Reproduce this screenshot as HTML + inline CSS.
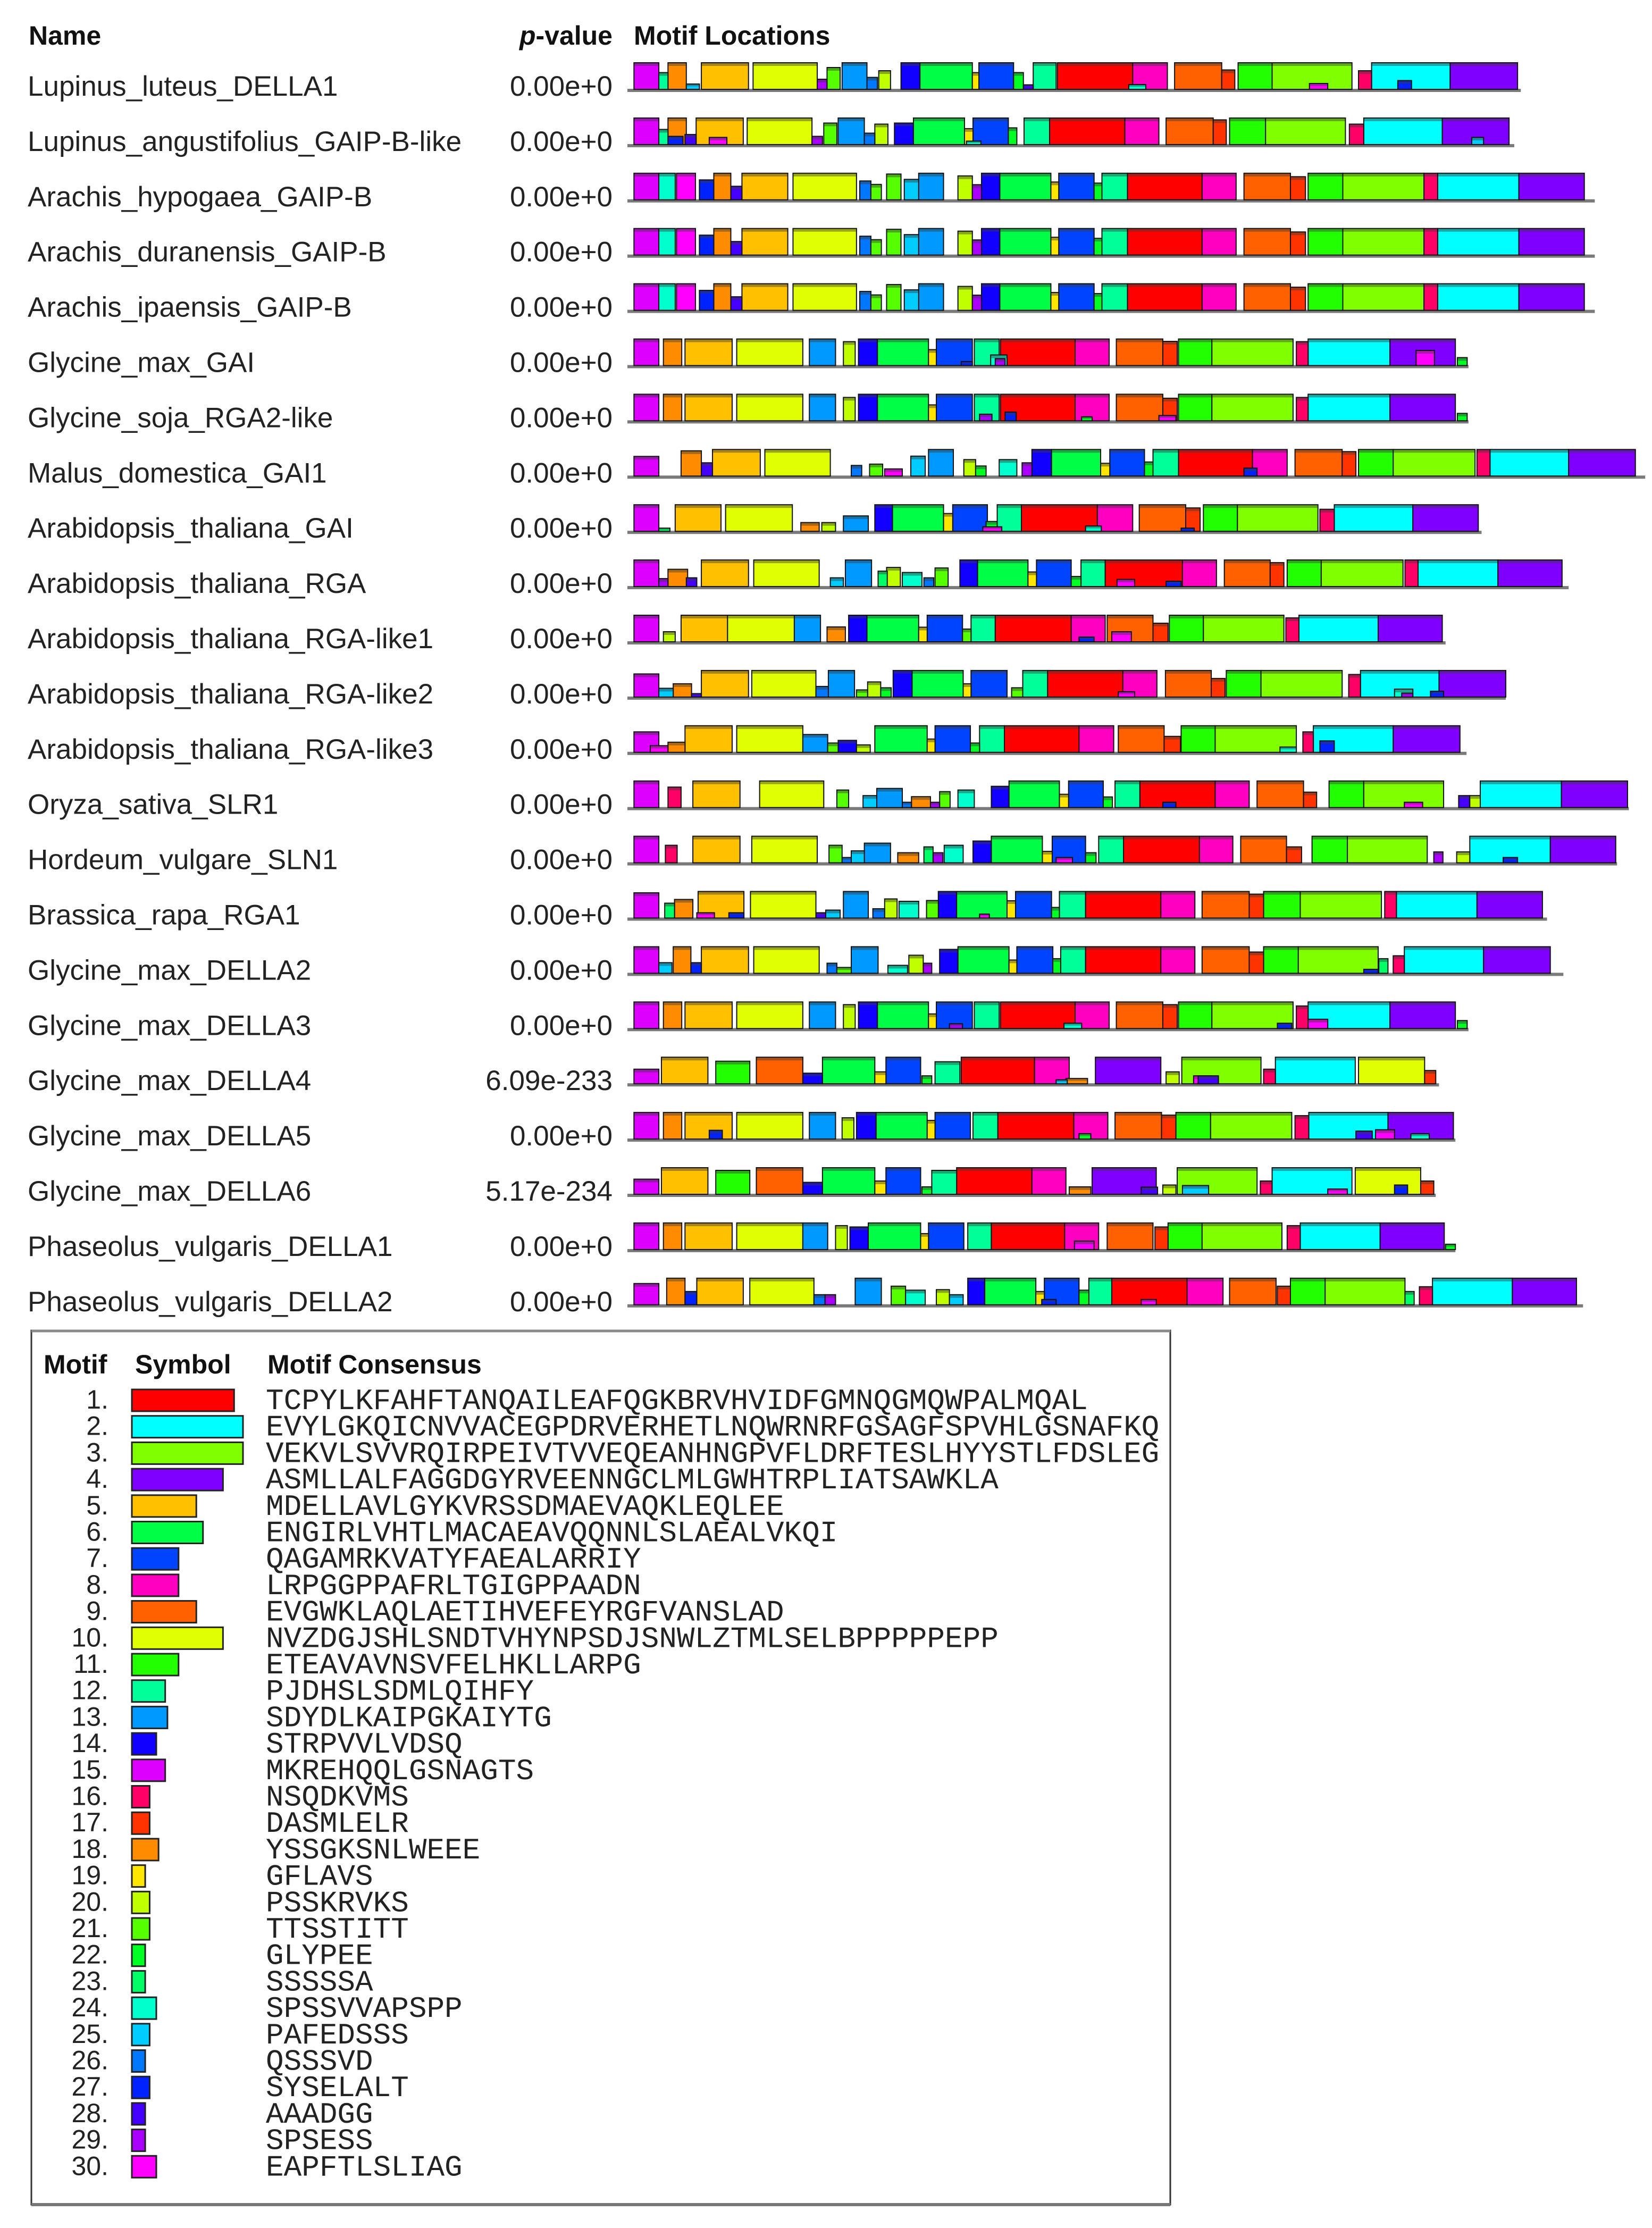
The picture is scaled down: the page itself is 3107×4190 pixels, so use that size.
<!DOCTYPE html>
<html><head><meta charset="utf-8"><style>
html,body{margin:0;padding:0;background:#fff;}
svg text{font-family:"Liberation Sans",sans-serif;}
.mono{font-family:"Liberation Mono",monospace;}
</style></head><body>
<svg id="chart" xmlns="http://www.w3.org/2000/svg" width="3107" height="4185" viewBox="0 0 3107 4185">
<g id="hdr">
<text x="54" y="84" font-size="50" font-weight="bold" fill="#111">Name</text>
<text x="1152" y="84" font-size="50" font-weight="bold" fill="#111" text-anchor="end"><tspan font-style="italic">p</tspan>-value</text>
<text x="1192" y="84" font-size="50" font-weight="bold" fill="#111">Motif Locations</text>
</g>
<g id="rows"></g>
<g id="legend">
<rect x="59" y="2502" width="2142" height="1644" fill="none" stroke="#333" stroke-width="3"/>
<line x1="59" y1="2503" x2="2201" y2="2503" stroke="#888" stroke-width="5"/>
<line x1="59" y1="4146" x2="2201" y2="4146" stroke="#777" stroke-width="6"/>
<text x="82" y="2583" font-size="50" font-weight="bold" fill="#111">Motif</text>
<text x="254" y="2583" font-size="50" font-weight="bold" fill="#111">Symbol</text>
<text x="503" y="2583" font-size="50" font-weight="bold" fill="#111">Motif Consensus</text>
</g>
</svg>
<script>
const seqNames=["Lupinus_luteus_DELLA1","Lupinus_angustifolius_GAIP-B-like","Arachis_hypogaea_GAIP-B","Arachis_duranensis_GAIP-B","Arachis_ipaensis_GAIP-B","Glycine_max_GAI","Glycine_soja_RGA2-like","Malus_domestica_GAI1","Arabidopsis_thaliana_GAI","Arabidopsis_thaliana_RGA","Arabidopsis_thaliana_RGA-like1","Arabidopsis_thaliana_RGA-like2","Arabidopsis_thaliana_RGA-like3","Oryza_sativa_SLR1","Hordeum_vulgare_SLN1","Brassica_rapa_RGA1","Glycine_max_DELLA2","Glycine_max_DELLA3","Glycine_max_DELLA4","Glycine_max_DELLA5","Glycine_max_DELLA6","Phaseolus_vulgaris_DELLA1","Phaseolus_vulgaris_DELLA2"];
const pValues=["0.00e+0","0.00e+0","0.00e+0","0.00e+0","0.00e+0","0.00e+0","0.00e+0","0.00e+0","0.00e+0","0.00e+0","0.00e+0","0.00e+0","0.00e+0","0.00e+0","0.00e+0","0.00e+0","0.00e+0","0.00e+0","6.09e-233","0.00e+0","5.17e-234","0.00e+0","0.00e+0"];
const seqLengths=[1365,1355,1478,1478,1478,1285,1285,1555,1305,1438,1250,1342,1282,1530,1512,1405,1430,1285,1240,1265,1235,1265,1460];
const motifColors=["#ff0000","#00ffff","#80ff00","#8000ff","#ffc000","#00ff44","#0044ff","#ff00c0","#ff6000","#e0ff00","#22ff00","#00ff99","#0099ff","#1100ff","#dd00ff","#ff0066","#ff3300","#ff8c00","#ffe600","#c0ff00","#55ff00","#00ff22","#00ff66","#00ffcc","#00ccff","#0077ff","#0022ff","#4400ff","#aa00ff","#ff00ff"];
const consensus=["TCPYLKFAHFTANQAILEAFQGKBRVHVIDFGMNQGMQWPALMQAL","EVYLGKQICNVVACEGPDRVERHETLNQWRNRFGSAGFSPVHLGSNAFKQ","VEKVLSVVRQIRPEIVTVVEQEANHNGPVFLDRFTESLHYYSTLFDSLEG","ASMLLALFAGGDGYRVEENNGCLMLGWHTRPLIATSAWKLA","MDELLAVLGYKVRSSDMAEVAQKLEQLEE","ENGIRLVHTLMACAEAVQQNNLSLAEALVKQI","QAGAMRKVATYFAEALARRIY","LRPGGPPAFRLTGIGPPAADN","EVGWKLAQLAETIHVEFEYRGFVANSLAD","NVZDGJSHLSNDTVHYNPSDJSNWLZTMLSELBPPPPPEPP","ETEAVAVNSVFELHKLLARPG","PJDHSLSDMLQIHFY","SDYDLKAIPGKAIYTG","STRPVVLVDSQ","MKREHQQLGSNAGTS","NSQDKVMS","DASMLELR","YSSGKSNLWEEE","GFLAVS","PSSKRVKS","TTSSTITT","GLYPEE","SSSSSA","SPSSVVAPSPP","PAFEDSSS","QSSSVD","SYSELALT","AAADGG","SPSESS","EAPFTLSLIAG"];
// each hit: [motif, start, end, relative height]
const hitsArachis=[[15,10,48,1],[24,48,73,1],[30,75,104,1],[27,110,132,.75],[18,132,158,1],[28,158,175,.51],[5,175,245,1],[10,253,350,1],[26,355,372,.71],[21,372,388,.58],[21,396,418,.97],[25,423,445,.77],[13,445,483,1],[20,505,527,.9],[29,527,541,.57],[14,541,569,1],[6,569,647,1],[19,647,659,.67],[7,659,713,1],[22,713,725,.63],[12,725,764,1],[1,764,878,1],[8,878,930,1],[9,942,1013,1],[17,1013,1036,.87],[11,1040,1093,1],[3,1093,1217,1],[16,1217,1238,1],[2,1238,1362,1],[4,1362,1462,1]];
const motifHits=[
[[15,10,48,1],[12,48,62,.63],[18,62,90,1],[25,90,110,.2],[5,113,185,1],[10,192,290,1],[29,290,305,.38],[21,305,325,.82],[13,328,366,1],[26,366,382,.45],[20,384,402,.7],[14,418,447,1],[6,447,527,1],[19,527,537,.63],[7,537,590,1],[22,590,605,.63],[28,605,620,.17],[12,620,655,1],[1,657,772,1],[8,772,825,1],[24,766,792,.18],[9,836,908,1],[17,908,928,.73],[11,933,985,1],[3,985,1107,1],[30,1042,1070,.22],[16,1117,1137,.7],[2,1137,1257,1],[27,1177,1198,.33],[4,1257,1360,1]],
[[15,10,48,1],[12,48,62,.57],[18,62,90,1],[27,62,85,.31],[28,88,105,.38],[5,105,177,1],[30,125,152,.27],[10,183,282,1],[29,282,298,.31],[21,300,320,.81],[13,322,362,1],[26,362,378,.43],[20,378,398,.77],[14,408,437,.81],[6,437,515,1],[19,515,528,.6],[24,518,540,.13],[7,528,582,1],[22,582,595,.63],[12,606,645,1],[1,645,760,1],[8,760,812,1],[9,823,895,1],[17,895,915,.93],[11,920,975,1],[3,975,1097,1],[16,1103,1125,.77],[2,1125,1245,1],[4,1245,1347,1],[25,1290,1308,.27]],
hitsArachis,hitsArachis,hitsArachis,
[[15,10,48,1],[18,55,83,1],[5,88,160,1],[10,167,268,1],[13,278,318,1],[20,330,348,.9],[14,353,382,1],[6,382,460,1],[19,460,472,.6],[7,472,527,1],[27,510,527,.15],[12,530,568,1],[1,570,684,1],[24,555,580,.4],[29,562,577,.26],[8,684,736,1],[9,747,818,1],[17,818,840,.91],[11,842,893,1],[3,893,1017,1],[16,1022,1040,.9],[2,1040,1165,1],[4,1165,1265,1],[30,1205,1233,.57],[22,1268,1283,.3]],
[[15,10,48,1],[18,55,83,1],[5,88,160,1],[10,167,268,1],[13,278,318,1],[20,330,348,.88],[14,353,382,1],[6,382,460,1],[19,460,472,.6],[7,472,527,1],[12,530,568,1],[1,570,684,1],[29,538,557,.25],[27,577,594,.33],[8,684,736,1],[22,694,710,.15],[9,747,818,1],[17,818,840,.85],[30,812,838,.2],[11,842,893,1],[3,893,1017,1],[16,1022,1040,.88],[2,1040,1165,1],[4,1165,1265,1],[22,1268,1283,.28]],
[[15,10,48,.74],[18,82,113,.95],[28,113,130,.5],[5,130,203,1],[10,210,310,1],[26,342,358,.4],[21,370,390,.45],[30,393,420,.27],[25,433,455,.75],[13,460,498,1],[20,514,532,.62],[22,532,548,.38],[24,568,595,.62],[29,603,618,.5],[14,618,648,1],[6,648,723,1],[19,723,737,.48],[7,737,790,1],[22,790,803,.53],[12,803,842,1],[1,842,955,1],[27,942,962,.3],[8,955,1008,1],[9,1020,1092,1],[17,1092,1113,.92],[11,1117,1170,1],[3,1170,1295,1],[16,1298,1318,1],[2,1318,1438,1],[4,1438,1540,1]],
[[15,10,48,1],[23,48,65,.12],[5,73,143,1],[10,150,252,1],[18,265,293,.33],[20,297,318,.33],[13,330,368,.58],[14,378,405,1],[6,405,483,1],[19,483,497,.67],[7,497,550,1],[22,548,565,.37],[30,543,572,.17],[12,565,602,1],[1,602,718,1],[24,700,724,.2],[8,718,772,1],[9,782,853,1],[17,853,875,.88],[27,846,866,.12],[11,880,932,1],[3,932,1055,1],[16,1058,1080,.83],[2,1080,1200,1],[4,1200,1300,1]],
[[15,10,48,1],[29,48,62,.3],[18,62,92,.65],[28,90,106,.33],[5,113,185,1],[10,193,293,1],[25,310,330,.33],[13,333,373,1],[23,383,397,.58],[20,396,417,.72],[24,420,450,.53],[26,453,468,.33],[21,470,490,.7],[14,508,535,1],[6,535,612,1],[19,612,625,.55],[7,625,678,1],[22,678,693,.38],[12,693,730,1],[1,730,848,1],[30,748,775,.27],[27,823,846,.2],[8,848,900,1],[9,912,982,1],[17,982,1003,.9],[11,1008,1060,1],[3,1060,1185,1],[16,1188,1208,1],[2,1208,1330,1],[4,1330,1428,1]],
[[15,10,48,1],[20,55,73,.38],[5,82,153,1],[10,153,255,1],[13,255,295,1],[18,305,333,.56],[14,338,366,1],[6,366,445,1],[19,445,458,.55],[7,458,512,1],[21,512,525,.48],[12,525,562,1],[1,562,678,1],[8,678,730,1],[27,690,713,.18],[9,733,803,1],[30,740,770,.38],[17,803,826,.7],[11,828,880,1],[3,880,1003,1],[16,1006,1026,.9],[2,1026,1147,1],[4,1147,1245,1]],
[[15,10,48,.87],[25,48,70,.33],[18,70,98,.5],[28,98,113,.13],[5,113,185,1],[10,190,288,1],[26,288,307,.4],[13,307,347,1],[21,350,367,.27],[20,367,387,.57],[22,387,403,.35],[14,406,435,1],[6,435,513,1],[19,513,525,.5],[7,525,580,1],[21,587,604,.35],[12,604,642,1],[1,642,757,1],[30,750,775,.2],[8,757,809,1],[9,822,892,1],[17,892,913,.7],[11,915,968,1],[3,968,1092,1],[16,1102,1120,.85],[2,1120,1240,1],[24,1172,1200,.3],[29,1183,1200,.15],[4,1240,1342,1],[27,1227,1247,.22]],
[[15,10,48,.77],[30,35,62,.25],[18,62,88,.38],[5,88,160,1],[10,167,268,1],[13,268,306,.67],[21,306,322,.35],[14,322,350,.45],[20,350,371,.28],[6,378,458,1],[19,458,470,.5],[7,470,524,1],[22,524,538,.35],[12,538,576,1],[1,576,690,1],[8,690,743,1],[9,750,820,1],[17,820,845,.6],[11,846,898,1],[3,898,1022,1],[24,997,1022,.2],[16,1032,1048,.77],[2,1048,1170,1],[27,1058,1080,.43],[4,1170,1272,1]],
[[15,10,48,1],[16,62,82,.77],[5,100,172,1],[10,202,300,1],[21,320,338,.66],[25,360,381,.45],[13,381,420,.72],[26,420,434,.2],[18,434,463,.41],[29,463,477,.2],[21,477,493,.6],[24,505,530,.66],[14,556,583,.8],[6,583,660,1],[19,660,674,.5],[7,674,727,1],[22,727,741,.4],[12,745,783,1],[1,783,898,1],[27,818,838,.2],[8,898,950,1],[9,962,1033,1],[17,1033,1053,.58],[11,1072,1125,1],[3,1125,1247,1],[30,1187,1215,.2],[28,1270,1287,.45],[20,1287,1303,.45],[2,1303,1427,1],[4,1427,1528,1]],
[[15,10,48,1],[16,58,76,.66],[5,100,172,1],[10,190,290,1],[21,308,328,.66],[26,328,342,.2],[25,342,362,.45],[13,362,402,.74],[18,413,445,.38],[23,453,467,.6],[29,467,482,.38],[24,484,513,.66],[14,528,556,.82],[6,556,634,1],[19,634,649,.43],[7,649,700,1],[30,655,680,.2],[22,700,716,.38],[12,720,758,1],[1,758,874,1],[8,874,925,1],[9,937,1007,1],[17,1007,1030,.6],[11,1046,1100,1],[3,1100,1222,1],[29,1232,1246,.41],[20,1267,1287,.41],[2,1287,1410,1],[27,1338,1360,.2],[4,1410,1510,1]],
[[15,10,48,.95],[23,57,72,.56],[18,72,100,.7],[5,108,178,1],[30,106,133,.2],[27,155,178,.2],[10,188,288,1],[28,288,303,.2],[25,303,325,.3],[13,330,368,1],[26,375,393,.35],[20,393,412,.72],[24,415,445,.63],[21,457,475,.66],[14,475,503,1],[6,503,580,1],[30,538,553,.15],[19,580,593,.65],[7,593,648,1],[22,648,660,.4],[12,660,700,1],[1,700,815,1],[8,815,867,1],[9,878,950,1],[17,950,972,.9],[11,972,1028,1],[3,1028,1152,1],[16,1157,1175,1],[2,1175,1298,1],[4,1298,1398,1]],
[[15,10,48,1],[25,48,68,.4],[18,70,97,1],[27,97,113,.4],[5,113,185,1],[10,193,293,1],[26,305,320,.38],[21,320,342,.22],[13,342,383,1],[24,398,428,.3],[20,430,452,.68],[29,452,465,.38],[14,477,505,.9],[6,505,583,1],[19,583,595,.5],[7,595,650,1],[22,650,662,.55],[12,662,700,1],[1,700,815,1],[8,815,867,1],[9,878,950,1],[17,950,972,.8],[11,972,1025,1],[3,1025,1147,1],[27,1125,1147,.15],[23,1148,1162,.55],[16,1170,1187,.66],[2,1187,1308,1],[4,1308,1410,1]],
[[15,10,48,1],[18,55,83,1],[5,88,160,1],[10,167,268,1],[13,278,318,1],[20,330,348,.9],[14,353,382,1],[6,382,460,1],[19,460,472,.55],[7,472,527,1],[29,492,512,.18],[12,530,568,1],[1,570,684,1],[24,667,694,.2],[8,684,736,1],[9,747,818,1],[17,818,840,.9],[11,842,893,1],[3,893,1017,1],[27,993,1015,.2],[16,1022,1040,.85],[2,1040,1165,1],[30,1040,1070,.35],[4,1165,1265,1],[22,1268,1283,.3]],
[[15,10,48,.55],[5,52,123,1],[11,135,187,.85],[9,197,268,1],[14,268,298,.4],[6,298,378,1],[19,378,395,.45],[7,395,448,1],[22,450,465,.3],[12,470,508,.83],[1,510,622,1],[8,622,675,1],[25,655,672,.15],[18,670,703,.2],[4,715,815,1],[20,823,843,.45],[3,847,968,1],[30,865,893,.3],[28,872,903,.3],[16,972,990,.55],[2,990,1112,1],[10,1117,1218,1],[17,1218,1235,.5]],
[[15,10,48,1],[18,55,83,1],[5,88,160,1],[27,125,145,.33],[10,167,268,1],[13,278,318,1],[20,328,346,.8],[14,350,380,1],[6,380,458,1],[19,458,470,.7],[7,470,524,1],[12,528,566,1],[1,566,682,1],[8,682,734,1],[22,690,708,.2],[9,745,816,1],[17,816,838,.9],[11,838,891,1],[3,891,1015,1],[16,1020,1041,.88],[2,1041,1162,1],[28,1113,1138,.3],[30,1143,1172,.35],[4,1162,1262,1],[24,1197,1225,.2]],
[[15,10,48,.57],[5,52,123,1],[11,135,187,.9],[9,197,268,1],[14,268,298,.45],[6,298,378,1],[19,378,395,.5],[7,395,448,1],[22,450,465,.28],[12,465,503,.9],[1,503,618,1],[8,618,670,1],[18,675,708,.28],[4,710,808,1],[28,785,810,.27],[20,818,838,.35],[3,840,962,1],[25,848,888,.33],[16,967,985,.5],[2,985,1107,1],[30,1070,1100,.2],[10,1112,1212,1],[27,1172,1192,.35],[17,1212,1232,.5]],
[[15,10,48,1],[18,55,83,1],[5,88,160,1],[10,167,268,1],[13,268,306,1],[20,318,336,.9],[14,340,368,.85],[6,368,448,1],[19,448,460,.6],[7,460,514,1],[12,520,556,1],[1,556,668,1],[8,668,720,1],[30,683,713,.32],[9,733,803,1],[17,806,826,.85],[11,826,878,1],[3,878,1000,1],[16,1008,1028,.9],[2,1028,1150,1],[4,1150,1248,1],[22,1250,1265,.2]],
[[15,10,48,.8],[18,60,88,1],[27,88,106,.5],[5,106,177,1],[10,187,285,1],[26,285,302,.38],[29,302,318,.38],[13,348,388,1],[21,403,425,.7],[24,425,455,.55],[20,472,492,.57],[25,492,513,.38],[14,520,546,1],[6,546,624,1],[19,624,637,.5],[7,637,690,1],[27,633,655,.2],[22,690,705,.55],[12,705,740,1],[1,740,855,1],[30,785,808,.2],[8,855,910,1],[9,920,991,1],[17,993,1013,.7],[11,1013,1066,1],[3,1066,1188,1],[23,1188,1202,.5],[16,1210,1230,.68],[2,1230,1352,1],[4,1352,1450,1]]
];
const NS="http://www.w3.org/2000/svg";
const X0=1180, PX_PER_POS=1.231, ROW0=168, ROW_STEP=103.9, MAXH=50;
const xScale=p=>X0+p*PX_PER_POS;
const yBase=i=>ROW0+i*ROW_STEP;
const hScale=f=>f*MAXH;
function mk(tag,attrs,parent){const e=document.createElementNS(NS,tag);for(const k in attrs)e.setAttribute(k,attrs[k]);parent.appendChild(e);return e;}
const rowsG=document.getElementById('rows');
seqNames.forEach((nm,i)=>{
  const g=mk('g',{},rowsG);
  
  
  const b=yBase(i);
  const t=mk('text',{x:52,y:b+12,'font-size':53,fill:'#222'},g);t.textContent=nm;
  
  
  const p=mk('text',{x:1152,y:b+12,'font-size':53,fill:'#222','text-anchor':'end'},g);p.textContent=pValues[i];
  
  
  const ln=mk('rect',{x:xScale(0),y:b-1,width:xScale(seqLengths[i])-xScale(0),height:6,fill:'#7a7a7a'},g);
  
  
  const hits=motifHits[i].map((h,k)=>[h,k]).sort((a,c)=>(c[0][3]-a[0][3])||(a[1]-c[1]));
  hits.forEach(([h])=>{
    const [m,s,e,f]=h;const x=xScale(s),w=xScale(e)-xScale(s),hh=hScale(f);
    const r=mk('rect',{x:x,y:b-hh,width:w,height:hh,fill:motifColors[m-1],stroke:'#111','stroke-width':2},g);
    
    
    const sh=mk('rect',{x:x+1,y:b-hh+1,width:Math.max(w-2,0),height:Math.min(5,hh/3),fill:'rgba(60,60,60,0.45)'},g);
    
    
  });
});
const lg=document.getElementById('legend');
const LY0=2613, LSTEP=49.7, BAR_X=248, PX_PER_AA=4.18;
consensus.forEach((c,i)=>{
  const y=LY0+i*LSTEP;
  const g=mk('g',{},lg);
  
  
  const n=mk('text',{x:204,y:y+36,'font-size':50,fill:'#222','text-anchor':'end'},g);n.textContent=(i+1)+'.';
  
  
  const r=mk('rect',{x:BAR_X,y:y,width:c.length*PX_PER_AA,height:41,fill:motifColors[i],stroke:'#222','stroke-width':3},g);
  
  
  const t=mk('text',{x:500,y:y+37,'font-size':56,fill:'#222',class:'mono'},g);t.textContent=c;
  
  
});
</script>
</body></html>
